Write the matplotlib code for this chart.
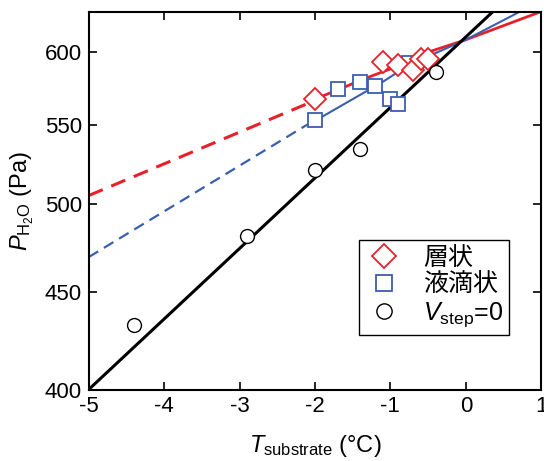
import numpy as np
import matplotlib
matplotlib.use("Agg")
import matplotlib.pyplot as plt
from matplotlib.ticker import FixedLocator, NullLocator, FixedFormatter

plt.rcParams['font.family'] = ['Liberation Sans', 'Noto Sans CJK JP']
plt.rcParams['mathtext.fontset'] = 'custom'
plt.rcParams['mathtext.rm'] = 'Liberation Sans'
plt.rcParams['mathtext.it'] = 'Liberation Sans:italic'

# measured points
layer_T = [-2.0, -1.1, -0.9, -0.7, -0.6, -0.5]
layer_P = [567, 593, 591, 587, 595, 595]

drop_T = [-2.0, -1.7, -1.4, -1.2, -1.0, -0.9, -0.75]
drop_P = [553, 574, 579, 576, 567, 564, 592]

zero_T = [-4.4, -2.9, -2.0, -1.4, -0.4]
zero_P = [432, 481, 521, 534, 586]

# guide curves
red_dash_T = [-5.0, -2.1]
red_dash_P = [505, 564]
red_T = [-2.0, -1.3, -0.9, -0.5, 0.0, 1.0]
red_P = [567, 582, 590, 600, 609, 630]

blue_dash_T = [-5.0, -2.1]
blue_dash_P = [469, 550]
blue_T = [-2.05, -1.3, -1.1, -0.75, 0.0, 0.72]
blue_P = [551, 573, 579, 591, 609, 630]

black_T = [-5.0, 0.36]
black_P = [400, 630]

red = '#e8202a'
blue = '#3a5fb0'

fig = plt.figure(figsize=(5.44, 4.61), dpi=100)
ax = fig.add_axes([0.163, 0.155, 0.832, 0.82])

ax.plot(red_dash_T, red_dash_P, color=red, lw=2.2, ls=(0, (5, 3)))
ax.plot(red_T, red_P, color=red, lw=2)
ax.plot(blue_dash_T, blue_dash_P, color=blue, lw=1.6, ls=(0, (5, 3)))
ax.plot(blue_T, blue_P, color=blue, lw=1.5)
ax.plot(black_T, black_P, color='black', lw=2.2)

ax.plot(drop_T, drop_P, ls='none', marker='s', ms=10, mfc='white', mec=blue,
        mew=1.3, label='液滴状')
ax.plot(layer_T, layer_P, ls='none', marker='D', ms=11.5, mfc='white', mec=red,
        mew=1.3, label='層状')
ax.plot(zero_T, zero_P, ls='none', marker='o', ms=10, mfc='white', mec='black',
        mew=1.0, label=r'$V_{\mathrm{step}}$=0')

ax.set_yscale('log')
ax.set_xlim(-5, 1)
ax.set_ylim(400, 630)
ax.yaxis.set_major_locator(FixedLocator([400, 450, 500, 550, 600]))
ax.yaxis.set_major_formatter(FixedFormatter(['400', '450', '500', '550', '600']))
ax.yaxis.set_minor_locator(NullLocator())
ax.set_xticks([-5, -4, -3, -2, -1, 0, 1])
ax.set_xticklabels(['-5', '-4', '-3', '-2', '-1', '0', '1'])

ax.tick_params(direction='in', length=6, width=1.2, labelsize=16,
               top=True, right=True, pad=5)
for s in ax.spines.values():
    s.set_linewidth(1.5)

ax.set_xlabel(r'$T_{\mathrm{substrate}}$ (°C)', fontsize=17, labelpad=11)
ax.set_ylabel(r'$P_{\mathrm{H_2O}}$ (Pa)', fontsize=17, labelpad=6)

h, l = ax.get_legend_handles_labels()
order = [1, 0, 2]
leg = ax.legend([h[i] for i in order], [l[i] for i in order],
                loc='lower right', bbox_to_anchor=(0.929, 0.144), fontsize=18,
                fancybox=False, framealpha=1, edgecolor='black',
                handletextpad=0.8, borderpad=0.25, labelspacing=0.12,
                handlelength=1.5, borderaxespad=0, markerscale=1.1)
leg.get_frame().set_linewidth(1.0)

fig.savefig('out.png', dpi=100)
